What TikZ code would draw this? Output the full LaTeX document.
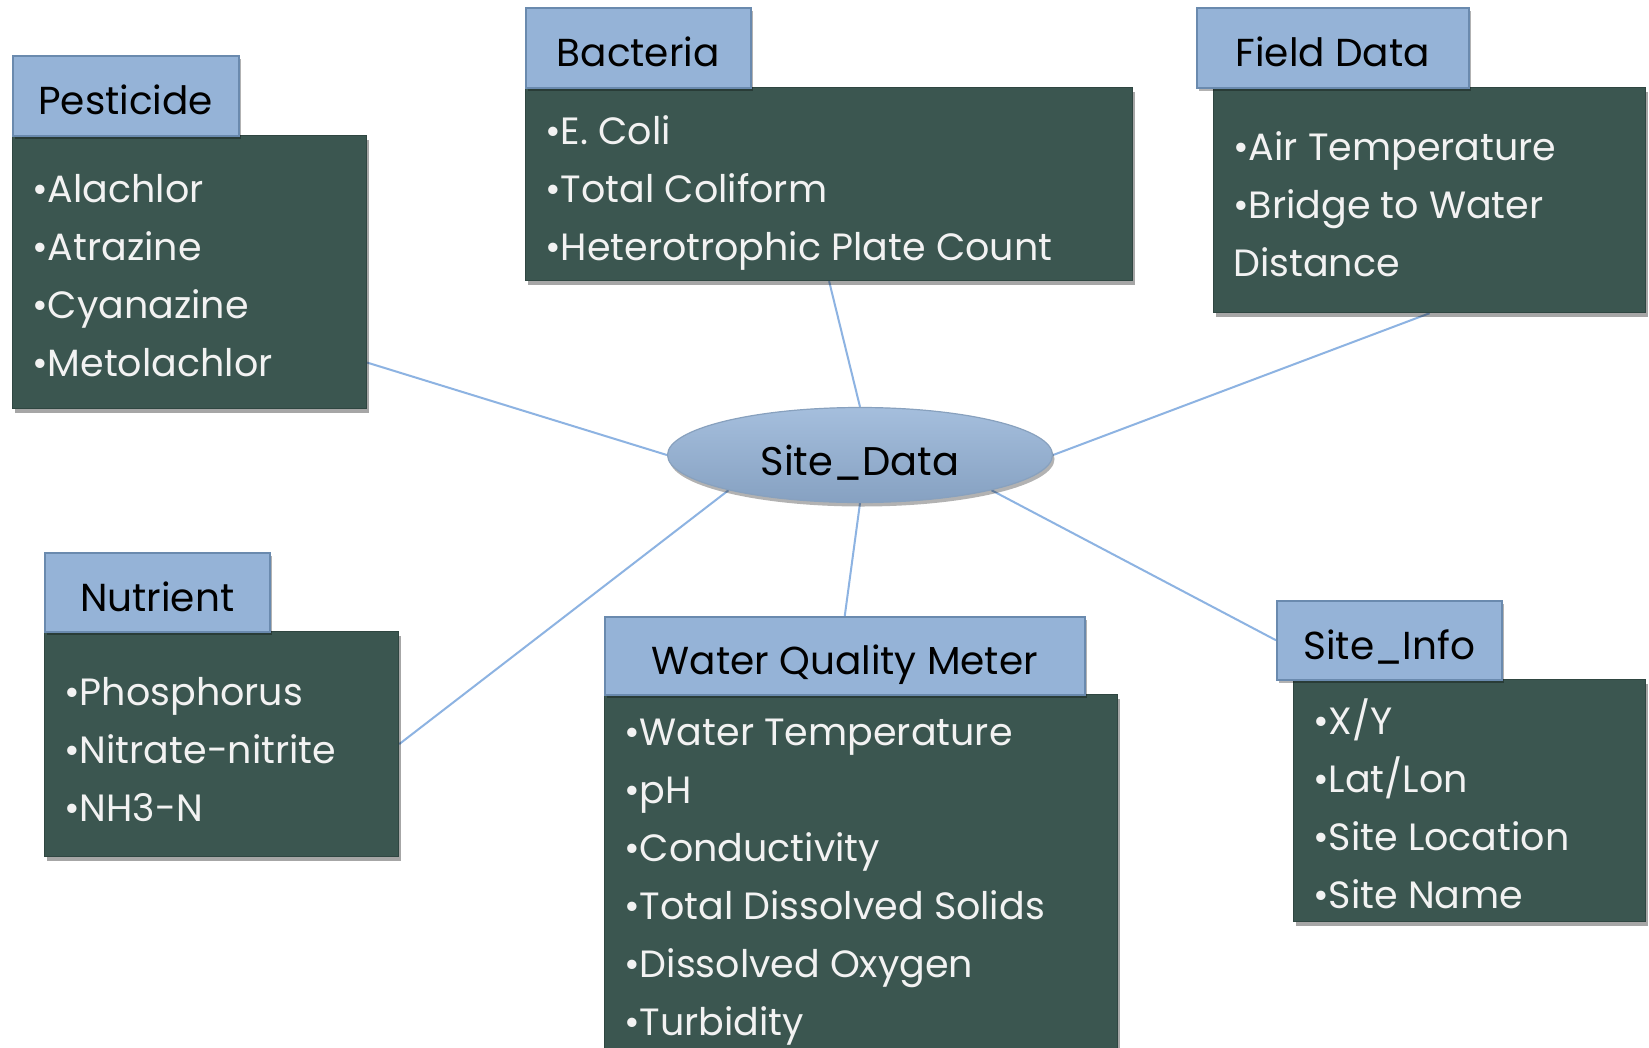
\documentclass[tikz,border=0pt]{standalone}
\usepackage{fontspec}
\setmainfont{Poppins}
\usetikzlibrary{shapes.geometric,calc,shadows,backgrounds}
\definecolor{bodyfill}{HTML}{3B5650}
\definecolor{bodyline}{HTML}{2F4641}
\definecolor{hdrfill}{HTML}{95B3D7}
\definecolor{hdrline}{HTML}{6A8AAE}
\definecolor{connclr}{HTML}{8DB3E2}
\definecolor{bodytxt}{HTML}{F2F2F2}
\begin{document}
\begin{tikzpicture}[x=1pt,y=-1pt,
  bodybox/.style={draw=bodyline, line width=1.2pt, fill=bodyfill, anchor=north west, inner sep=0pt,
    drop shadow={shadow xshift=2pt, shadow yshift=-4pt, opacity=0.35, fill=black}},
  hdrbox/.style={draw=hdrline, line width=1.5pt, fill=hdrfill, anchor=north west, inner sep=0pt,
    minimum height=80pt, font=\fontsize{39}{48}\selectfont, text=black, text height=38pt, text depth=0pt,
    drop shadow={shadow xshift=2pt, shadow yshift=-3pt, opacity=0.3, fill=black}},
  bodytext/.style={anchor=north west, inner sep=0pt, align=left, text=bodytxt,
    font=\fontsize{38}{58}\selectfont},
  hub/.style={ellipse, draw=hdrline!80, line width=1.2pt, top color=hdrfill!85!white, bottom color=hdrfill!90!black,
    minimum width=385pt, minimum height=95pt, inner sep=0pt, font=\fontsize{40}{48}\selectfont,
    text height=40pt, text depth=0pt,
    drop shadow={shadow xshift=2pt, shadow yshift=-4pt, opacity=0.3, fill=black}},
  link/.style={draw=connclr, line width=2pt}
]
\useasboundingbox (0,0) rectangle (1649,1047);

% hub
\node[hub] (sd) at (860,455) {Site\_Data};

% Pesticide
\node[bodybox, minimum width=354pt, minimum height=273pt] (pb) at (12,135) {};
\node[hdrbox, minimum width=226pt] (ph) at (12,55) {Pesticide};
\node[bodytext] (pt) at ($(pb.north west)+(20,35)$) {\rule{0pt}{32pt}•Alachlor\\•Atrazine\\•Cyanazine\\•Metolachlor};

% Bacteria
\node[bodybox, minimum width=607pt, minimum height=193pt] (bb) at (525,87) {};
\node[hdrbox, minimum width=225pt] (bh) at (525,7) {Bacteria};
\node[bodytext] (bt) at ($(bb.north west)+(20,25)$) {\rule{0pt}{32pt}•E. Coli\\•Total Coliform\\•Heterotrophic Plate Count};

% Field Data
\node[bodybox, minimum width=432pt, minimum height=225pt] (fb) at (1213,87) {};
\node[hdrbox, minimum width=272pt] (fh) at (1196,7) {Field Data};
\node[bodytext] (ft) at ($(fb.north west)+(20,41)$) {\rule{0pt}{32pt}•Air Temperature\\•Bridge to Water\\Distance};

% Nutrient
\node[bodybox, minimum width=354pt, minimum height=225pt] (nb) at (44,631) {};
\node[hdrbox, minimum width=225pt, minimum height=79pt] (nh) at (44,552) {Nutrient};
\node[bodytext] (nt) at ($(nb.north west)+(20,42)$) {\rule{0pt}{32pt}•Phosphorus\\•Nitrate-nitrite\\•NH3-N};

% Water Quality Meter
\node[bodybox, minimum width=513pt, minimum height=370pt] (wb) at (604,694) {};
\node[hdrbox, minimum width=480pt, minimum height=78pt] (wh) at (604,616) {Water Quality Meter};
\node[bodytext] (wt) at ($(wb.north west)+(20,19)$) {\rule{0pt}{32pt}•Water Temperature\\•pH\\•Conductivity\\•Total Dissolved Solids\\•Dissolved Oxygen\\•Turbidity};

% Site_Info
\node[bodybox, minimum width=352pt, minimum height=242pt] (sb) at (1293,679) {};
\node[hdrbox, minimum width=225pt, minimum height=79pt] (sh) at (1276,600) {Site\_Info};
\node[bodytext] (st) at ($(sb.north west)+(20,19)$) {\rule{0pt}{32pt}•X/Y\\•Lat/Lon\\•Site Location\\•Site Name};

\begin{pgfonlayer}{background}
\fill[white] (0,0) rectangle (1649,1047);
\draw[link] ($(pb.north east)!0.83!(pb.south east)$) -- (sd.west);
\draw[link] (bb.south) -- (sd.north);
\draw[link] (fb.south) -- (sd.east);
\draw[link] (nb.east) -- (sd.195);
\draw[link] (wh.north) -- (sd.south);
\draw[link] (sh.west) -- (sd.345);
\end{pgfonlayer}
\end{tikzpicture}
\end{document}
